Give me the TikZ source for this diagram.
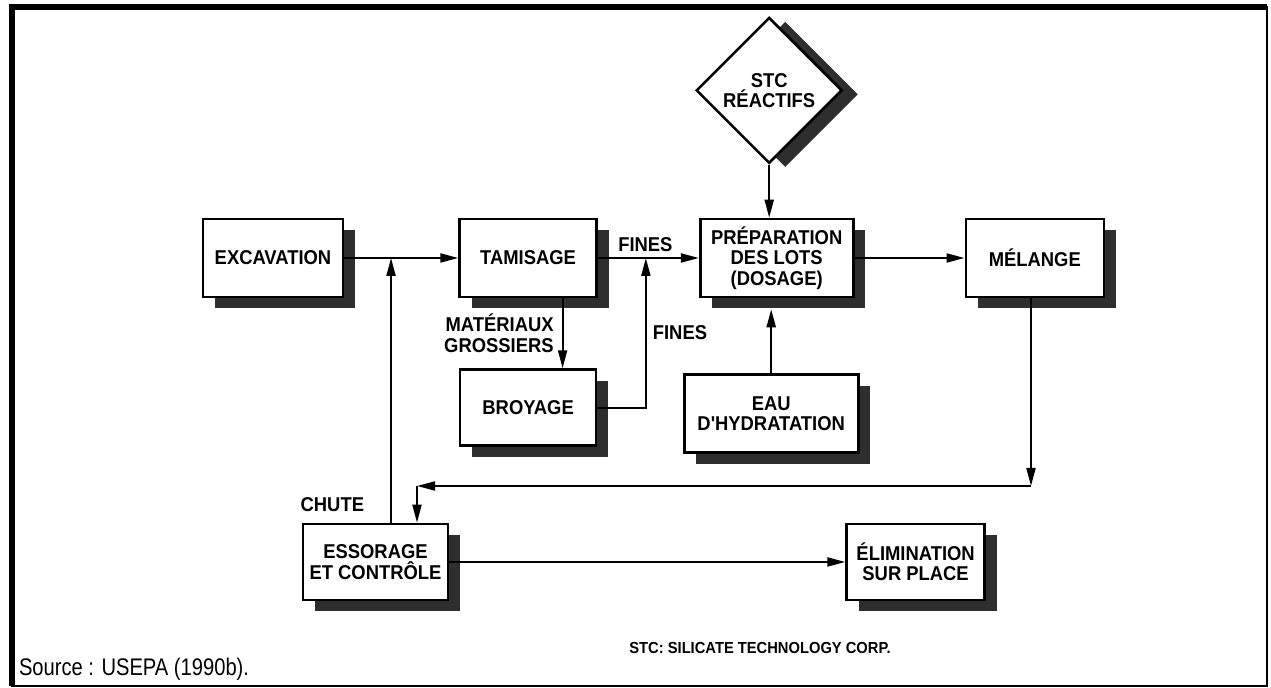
\documentclass[tikz,border=0pt]{standalone}
\usepackage{fontspec}
\setmainfont{Liberation Sans}
\newfontfamily\boxfont[FakeStretch=0.92]{Liberation Sans}
\newfontfamily\srcfont[FakeStretch=0.84]{Liberation Sans}
\usetikzlibrary{positioning, arrows.meta, calc, shapes.geometric, shadows}

\begin{document}
\begin{tikzpicture}[x=0.5pt, y=-0.5pt, line width=1pt, >={Triangle[length=9pt, width=4.5pt]},
  font=\boxfont\fontsize{10}{10.2}\selectfont\bfseries,
  bx/.style={draw, line width=1.3pt, fill=white, align=center, inner sep=0pt, minimum height=39pt,
    general shadow={fill=black!82, shadow xshift=6pt, shadow yshift=-5.5pt}},
  dm/.style={draw, diamond, line width=1.3pt, fill=white, align=center, inner sep=0pt, minimum size=73pt,
    general shadow={fill=black!82, shadow xshift=8pt, shadow yshift=-2pt}},
  lbl/.style={inner sep=0pt, align=right}]
  \useasboundingbox (0,0) rectangle (1271,688);
  % frame
  \draw (12,7) rectangle (1267,686);
  \draw[line width=3pt] (12,686) |- (1267,7);

  \node[bx, minimum width=70pt] (exc) at (273,258) {EXCAVATION};
  \node[bx, minimum width=68.5pt, right=57pt of exc] (tam) {TAMISAGE};
  \node[bx, minimum width=68pt, minimum height=38pt, below=35pt of tam] (bro) {BROYAGE};
  \node[bx, minimum width=76.5pt, right=50.5pt of tam] (prep) {PRÉPARATION\\DES LOTS\\(DOSAGE)};
  \node[bx, minimum width=69pt, right=55pt of prep] (mel) {MÉLANGE};
  \node[bx, minimum width=87pt, below=37.5pt of prep, xshift=-2.75pt] (eau) {EAU\\D'HYDRATATION};
  \node[dm, above=26.5pt of prep, xshift=-3.75pt] (stc) {STC\\RÉACTIFS};
  \node[bx, minimum width=72.5pt, minimum height=38pt] (ess) at (375.5,562) {ESSORAGE\\ET CONTRÔLE};
  \node[bx, minimum width=69pt, minimum height=38pt, right=198pt of ess] (elim) {ÉLIMINATION\\SUR PLACE};

  \coordinate (j1) at ($(exc.east)!0.41!(tam.west)$);
  \coordinate (j2) at ($(tam.east)!0.475!(prep.west)$);
  \coordinate (r1) at (1031,486);
  \coordinate (r2) at (417,486);

  \draw[->] (exc) -- (tam);
  \draw[->] (tam) -- node[lbl, above=2.5pt, pos=0.47]{FINES} (prep);
  \draw[->] ([xshift=17.25pt]tam.south) -- node[lbl, left=4pt]{MATÉRIAUX\\GROSSIERS} ([xshift=17.25pt]bro.north);
  \draw[->] (bro.east) -| node[lbl, right=3pt, pos=0.75]{FINES} (j2);
  \draw[->] (stc.south) -- (stc.south |- prep.north);
  \draw[->] (eau.north) -- ([yshift=-5.5pt]eau.north |- prep.south);
  \draw[->] (prep) -- (mel);
  \draw[->] (r1 |- mel.south) -- (r1);
  \draw[->] (r1) -- (r2);
  \draw[->] (r2) -- (r2 |- ess.north);
  \draw[->] (j1 |- ess.north) -- node[lbl, left=13pt, pos=0.07]{CHUTE} (j1);
  \draw[->] (ess) -- (elim);

  \node[font=\boxfont\fontsize{8}{9}\selectfont\bfseries] (note) at (760,648) {STC: SILICATE TECHNOLOGY CORP.};
  \node[font=\srcfont\fontsize{12}{13}\selectfont, anchor=west, inner sep=0pt] (src) at (18,669) {Source : USEPA (1990b).};
\end{tikzpicture}
\end{document}
